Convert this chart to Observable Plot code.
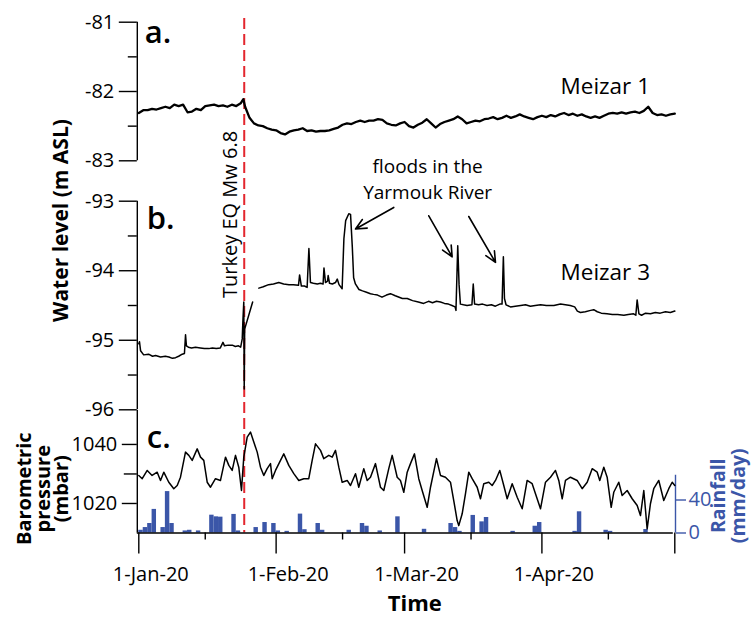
<!DOCTYPE html>
<html>
<head>
<meta charset="utf-8">
<script src="https://cdn.jsdelivr.net/npm/d3@7"></script>
<script src="https://cdn.jsdelivr.net/npm/@observablehq/plot@0.6"></script>
<style>
  body { margin: 0; background: #fff; }
  #chart { position: relative; width: 751px; height: 621px; }
  #chart svg { position: absolute; left: 0; top: 0; }
</style>
</head>
<body>
<div id="chart"></div>
<script>
// ---- time: days since 1 Jan 2020 -------------------------------------------
const monthTicks = [0, 31, 60, 91, 121];      // 1 Jan, 1 Feb, 1 Mar, 1 Apr, 1 May
const monthLabelTicks = [0, 31, 60, 91];
const midMonthTicks = [15, 46, 75, 106];      // 16th of each month
const eqDay = 23.8;                            // Turkey earthquake, 24 Jan 2020

// ---- a. Meizar 1 water level (m ASL) ---------------------------------------
const m1Day = [0,1,2,3,4,5,6,7,8,9,10,11,12,13,14,15,16,17,18,19,20,21,22,23,23.6,
  24,25,26,27,28,29,30,31,32,33,34,35,36,37,38,39,40,41,42,43,44,45,46,47,48,49,50,
  51,52,53,54,55,56,57,58,59,60,61,62,63,64,65,66,67,68,69,70,71,72,73,74,75,76,77,
  78,79,80,81,82,83,84,85,86,87,88,89,90,91,92,93,94,95,96,97,98,99,100,101,102,103,
  104,105,106,107,108,109,110,111,112,113,114,115,116,117,118,119,120,121];
const m1Level = [-82.31,-82.27,-82.27,-82.25,-82.26,-82.24,-82.22,-82.24,-82.19,-82.21,
  -82.19,-82.30,-82.29,-82.25,-82.27,-82.21,-82.20,-82.19,-82.21,-82.20,-82.22,-82.19,
  -82.21,-82.17,-82.11,
  -82.22,-82.38,-82.46,-82.49,-82.50,-82.53,-82.55,-82.56,-82.60,-82.62,-82.58,-82.56,
  -82.55,-82.53,-82.57,-82.56,-82.58,-82.57,-82.57,-82.56,-82.54,-82.52,-82.48,-82.46,
  -82.47,-82.44,-82.42,-82.44,-82.42,-82.42,-82.40,-82.41,-82.46,-82.48,-82.49,-82.46,
  -82.44,-82.50,-82.52,-82.48,-82.45,-82.40,-82.46,-82.52,-82.47,-82.44,-82.42,-82.40,
  -82.36,-82.40,-82.46,-82.44,-82.42,-82.43,-82.40,-82.39,-82.37,-82.40,-82.38,-82.35,
  -82.38,-82.36,-82.33,-82.36,-82.38,-82.40,-82.37,-82.35,-82.37,-82.34,-82.36,-82.33,
  -82.31,-82.34,-82.32,-82.35,-82.33,-82.36,-82.38,-82.36,-82.38,-82.35,-82.32,-82.31,
  -82.32,-82.30,-82.32,-82.30,-82.29,-82.31,-82.28,-82.22,-82.31,-82.34,-82.33,-82.35,
  -82.33,-82.32];

// ---- b. Meizar 3 water level (m ASL); null = logger gap --------------------
const m3Day = [0,0.15,0.4,1.1,2.2,3.1,3.8,4.9,6.0,6.8,
  7.6,8.3,9.0,9.8,10.3,10.55,10.75,11.2,11.9,12.8,
  13.9,14.8,15.8,16.6,17.5,18.4,19.0,19.35,20.2,21.1,
  21.8,22.5,23.0,23.35,23.5,23.7,23.8,23.9,25.7,25.8,
  27.1,28.1,29.3,30.4,31.6,32.7,33.9,34.9,36.05,36.3,
  36.7,37.4,38.0,38.4,38.75,39.4,40.3,41.0,41.6,41.8,
  42.15,42.6,42.75,43.05,43.7,44.4,44.8,45.2,45.9,46.3,
  46.7,47.4,47.8,48.2,48.5,48.9,49.7,50.5,51.4,52.3,
  53.0,53.9,54.9,55.9,56.8,57.9,59.5,60.6,61.8,63.1,
  64.3,65.4,66.3,67.2,68.1,69.0,69.9,70.7,71.4,71.6,
  72.0,72.3,72.6,73.3,74.1,75.2,75.5,75.8,76.7,77.6,
  78.6,79.6,80.5,81.5,82.0,82.3,82.55,82.9,83.9,85.0,
  86.2,87.3,88.4,89.5,90.7,92.0,93.7,95.2,96.3,97.4,
  98.4,99.0,99.7,100.8,102.0,102.7,103.5,104.4,105.7,106.9,
  108.1,109.5,110.5,111.7,112.2,112.5,112.9,113.5,114.4,115.5,
  116.6,117.7,118.9,120.0,121.0];
const m3Level = [-95.05,-95.02,-95.15,-95.21,-95.20,-95.23,-95.22,-95.24,-95.23,-95.24,
  -95.26,-95.25,-95.23,-95.20,-95.19,-94.92,-95.08,-95.10,-95.11,-95.10,
  -95.11,-95.12,-95.12,-95.11,-95.12,-95.11,-95.03,-95.08,-95.07,-95.07,
  -95.09,-95.08,-95.10,-94.98,-94.72,-94.45,-95.70,-94.84,-94.45,null,
  -94.25,-94.23,-94.20,-94.19,-94.17,-94.19,-94.20,-94.20,-94.21,-94.06,
  -94.22,-94.22,-94.24,-93.68,-94.17,-94.18,-94.19,-94.18,-94.19,-93.96,
  -94.17,-94.15,-94.07,-94.18,-94.19,-94.17,-94.12,-94.20,-94.26,-93.54,
  -93.28,-93.18,-93.19,-93.66,-94.10,-94.19,-94.27,-94.29,-94.31,-94.33,
  -94.34,-94.35,-94.38,-94.35,-94.33,-94.36,-94.40,-94.40,-94.43,-94.45,
  -94.47,-94.44,-94.46,-94.44,-94.45,-94.47,-94.48,-94.50,-94.52,-94.57,
  -93.64,-94.20,-94.48,-94.49,-94.50,-94.49,-94.19,-94.48,-94.49,-94.48,
  -94.50,-94.49,-94.51,-94.48,-94.48,-93.80,-94.40,-94.49,-94.52,-94.51,
  -94.50,-94.49,-94.51,-94.50,-94.49,-94.50,-94.50,-94.48,-94.49,-94.50,
  -94.52,-94.58,-94.60,-94.59,-94.57,-94.56,-94.59,-94.61,-94.62,-94.63,
  -94.63,-94.64,-94.63,-94.62,-94.64,-94.42,-94.62,-94.64,-94.61,-94.62,
  -94.60,-94.61,-94.59,-94.60,-94.58];

// ---- c. barometric pressure (mbar) -----------------------------------------
const pDay = [0,0.77,1.9,3.0,4.15,4.9,5.64,6.77,7.9,8.67,
  9.41,10.54,11.29,12.05,13.18,13.93,14.67,15.44,16.19,17.31,
  18.44,19.57,20.32,21.08,21.83,22.57,23.18,23.7,24.47,25.21,
  25.96,26.73,27.47,28.22,28.98,29.73,30.11,30.86,31.99,32.73,
  33.86,34.99,36.12,37.25,38.37,39.14,39.89,41.02,41.76,42.89,
  43.66,44.4,45.15,45.91,47.04,47.79,48.92,49.66,50.79,51.56,
  52.3,53.43,54.56,55.3,56.43,57.2,58.33,59.07,59.82,60.59,
  61.33,62.23,63.2,63.97,65.1,65.85,67.2,68.1,69.23,70.36,
  71.1,71.87,72.23,73.0,73.75,74.49,75.26,76.39,77.13,77.88,
  79.01,79.77,80.52,81.49,82.39,83.16,84.29,85.42,86.55,87.67,
  88.8,89.55,90.68,91.81,92.94,94.06,94.81,95.58,96.32,97.45,
  98.96,100.09,101.22,102.35,103.48,104.06,104.97,105.73,106.64,107.22,
  108.35,109.12,110.25,111.38,112.51,113.25,114.0,114.76,115.5,116.25,
  117.38,118.51,119.64,120.41,121.0];
const pMbar = [1029.5,1028.4,1031.2,1029.5,1030.6,1027.8,1030.6,1027.2,1025.0,1026.1,
  1028.9,1037.4,1036.3,1034.6,1038.5,1035.7,1034.6,1027.2,1025.5,1028.4,
  1027.8,1035.7,1032.9,1031.2,1036.3,1032.3,1024.4,1035.7,1042.5,1044.2,
  1040.8,1037.4,1032.3,1029.5,1031.8,1033.5,1028.4,1031.2,1034.6,1036.8,
  1032.9,1030.1,1027.8,1028.4,1028.4,1034.6,1040.2,1038.0,1035.2,1036.3,
  1035.7,1038.0,1032.3,1027.2,1027.8,1026.1,1030.1,1025.5,1031.8,1027.8,
  1028.9,1033.5,1025.5,1024.4,1031.8,1036.3,1028.9,1027.8,1023.8,1030.6,
  1033.5,1036.8,1028.4,1024.4,1018.7,1025.5,1035.2,1029.5,1028.9,1027.2,
  1021.0,1014.2,1012.5,1016.5,1023.3,1030.6,1028.4,1025.5,1021.6,1026.7,
  1027.2,1026.1,1027.8,1031.2,1026.1,1021.6,1026.7,1022.1,1018.2,1027.8,
  1026.7,1023.3,1018.2,1027.2,1028.9,1031.2,1027.8,1021.6,1027.8,1028.9,
  1027.8,1025.0,1027.2,1031.8,1030.6,1027.8,1032.3,1028.9,1018.7,1023.8,
  1027.2,1022.7,1024.4,1021.6,1019.3,1015.9,1024.4,1011.4,1019.9,1025.0,
  1027.8,1021.0,1025.0,1027.2,1026.1];

// ---- c. daily rainfall (mm/day) --------------------------------------------
const rainDay = [0,1,2,3,5,6,7,10,11,13,16,17,18,21,22,26,28,30,31,33,36,37,40,41,47,
  50,51,54,58,64,70,71,72,75,77,78,84,89,90,98,99,105,106,114];
const rainMm = [3.3,6.6,11.5,28.6,6.6,50.2,11.5,2.5,3.3,2.5,21.6,19.6,19.2,22.5,2.5,
  6.6,12.7,11.5,2.5,2,22.9,4,11.5,3.3,3.3,11.5,8.2,2.5,19.6,4.5,11.5,6.6,2,21.3,13.5,
  18.8,2,8.2,12.7,2,25.7,3.3,2,4.2];

// ---- annotation arrows (panel b), tail -> head ------------------------------
const floodTailDay = [57.56, 65.46, 74.49];
const floodTailLevel = [-93.09, -93.21, -93.22];
const floodHeadDay = [48.92, 70.74, 80.52];
const floodHeadLevel = [-93.40, -93.80, -93.88];

// ---- axis ticks ------------------------------------------------------------
const aTicks = [-81, -82, -83], aMinor = [-81.5, -82.5];
const bTicks = [-93, -94, -95, -96], bMinor = [-93.5, -94.5, -95.5];
const cTicks = [1020, 1040], cMinor = [1030];
const rainTicks = [0, 40];

// ---- drawing ---------------------------------------------------------------
const W = 751, H = 621, X0 = 138.3, X1 = 674.3;
const FONT = "'Open Sans', 'Noto Sans', sans-serif";
const BLUE = "#3b56a8", RED = "#e3262e";
const t0 = Date.UTC(2020, 0, 1);
const at = d => new Date(t0 + d * 864e5);
const fmt = d3.utcFormat("%-d-%b-%y");
const hyphen = d => String(d);

const series = (days, vals) => days.map((d, i) => ({t: at(d), v: vals[i]}));
const m1 = series(m1Day, m1Level);
const m3 = series(m3Day, m3Level);
const pressure = series(pDay, pMbar);
const rain = rainDay.map((d, i) => ({t1: at(d), t2: at(d + 1), mm: rainMm[i]}));
const arrows = floodTailDay.map((d, i) => ({
  x1: at(d), y1: floodTailLevel[i], x2: at(floodHeadDay[i]), y2: floodHeadLevel[i]
}));

function layer({top, bottom, y, color = "black"}, marks) {
  const svg = Plot.plot({
    width: W, height: H,
    marginLeft: X0, marginRight: W - X1, marginTop: top, marginBottom: H - bottom,
    x: {type: "utc", domain: [at(0), at(121)], axis: null, label: null},
    y: y ? {domain: y, axis: null, label: null} : undefined,
    style: {background: "transparent", color, fontFamily: FONT, fontSize: "20px"},
    marks
  });
  document.getElementById("chart").append(svg);
}

const leftAxis = (ticks, minor, size, minorSize) => [
  Plot.ruleX([at(0)], {dx: -1.5, strokeWidth: 1.4}),
  Plot.axisY({anchor: "left", ticks, tickSize: size, tickPadding: 5, dx: -1.5,
    strokeWidth: 1.4, tickFormat: hyphen, fontSize: 20}),
  Plot.axisY({anchor: "left", ticks: minor, tickSize: minorSize, dx: -1.5,
    strokeWidth: 1.4, tickFormat: () => ""})
];

// earthquake marker across all panels
layer({top: 18, bottom: 532.5}, [
  Plot.ruleX([at(eqDay)], {stroke: RED, strokeWidth: 2, strokeDasharray: "11,5"})
]);

// rainfall bars with their own (right-hand) scale
layer({top: 410, bottom: 532.5, y: [0, 148.5], color: BLUE}, [
  Plot.rectY(rain, {x1: "t1", x2: "t2", y: "mm", fill: BLUE, inset: 0}),
  Plot.ruleX([at(121)], {y1: 0, y2: 70, stroke: BLUE, strokeWidth: 1.4, dx: 0.7}),
  Plot.axisY({anchor: "right", ticks: rainTicks, tickSize: 10, tickPadding: 3, dx: 0.7,
    strokeWidth: 1.4, tickFormat: hyphen, fontSize: 20}),
  Plot.text(["Rainfall\n(mm/day)"], {frameAnchor: "right", textAnchor: "middle",
    dx: 54, dy: 24, rotate: -90, fill: BLUE, fontWeight: "bold", fontSize: 19.5,
    lineHeight: 1.0})
]);

// a. Meizar 1
layer({top: 21.7, bottom: 160.3, y: [-83, -81]}, [
  ...leftAxis(aTicks, aMinor, 18, 9),
  Plot.line(m1, {x: "t", y: "v", strokeWidth: 2.3}),
  Plot.text(["a."], {frameAnchor: "top-left", textAnchor: "start", lineAnchor: "bottom",
    dx: 6, dy: 20.5, fontSize: 31, fontWeight: 600}),
  Plot.text(["Meizar 1"], {x: () => at(95.2), y: () => -82.04, textAnchor: "start",
    lineAnchor: "bottom", fontSize: 22.5})
]);

// b. Meizar 3
layer({top: 200.7, bottom: 409.3, y: [-96, -93]}, [
  ...leftAxis(bTicks, bMinor, 18, 9),
  Plot.line(m3, {x: "t", y: "v", strokeWidth: 1.5}),
  Plot.arrow(arrows, {x1: "x1", y1: "y1", x2: "x2", y2: "y2", strokeWidth: 1.6,
    headLength: 11, headAngle: 50}),
  Plot.text(["floods in the"], {x: () => at(65.2), y: () => -92.50, fontSize: 19}),
  Plot.text(["Yarmouk River"], {x: () => at(65.2), y: () => -92.875, fontSize: 19}),
  Plot.text(["Meizar 3"], {x: () => at(95.2), y: () => -94.14, textAnchor: "start",
    lineAnchor: "bottom", fontSize: 22.5}),
  Plot.text(["Turkey EQ Mw 6.8"], {x: () => at(eqDay), y: () => -93.19, dx: -14,
    rotate: -90, fontSize: 20}),
  Plot.text(["b."], {frameAnchor: "top-left", textAnchor: "start", lineAnchor: "bottom",
    dx: 8, dy: 27.5, fontSize: 31, fontWeight: 600}),
  Plot.text(["Water level (m ASL)"], {frameAnchor: "left", textAnchor: "middle",
    dx: -78, dy: -85, rotate: -90, fontSize: 21, fontWeight: "bold"})
]);

// c. barometric pressure + shared time axis
layer({top: 410, bottom: 532.5, y: [1010, 1051.5]}, [
  ...leftAxis(cTicks, cMinor, 15, 13),
  Plot.ruleY([1010], {strokeWidth: 1.4, dx: -1.5}),
  Plot.axisX({anchor: "bottom", ticks: monthTicks.map(at), tickSize: 21, strokeWidth: 1.4,
    tickFormat: () => ""}),
  Plot.axisX({anchor: "bottom", ticks: midMonthTicks.map(at), tickSize: 7, strokeWidth: 1.4,
    tickFormat: () => ""}),
  Plot.axisX({anchor: "bottom", ticks: monthLabelTicks.map(at), tickSize: 0, tickPadding: 34,
    dx: 12, tickFormat: fmt, fontSize: 20}),
  Plot.line(pressure, {x: "t", y: "v", strokeWidth: 1.5}),
  Plot.text(["c."], {frameAnchor: "top-left", textAnchor: "start", lineAnchor: "bottom",
    dx: 8, dy: 37, fontSize: 31, fontWeight: 600}),
  Plot.text(["Barometric\npressure\n(mbar)"], {frameAnchor: "left", textAnchor: "middle",
    dx: -95, dy: 17, rotate: -90, fontSize: 20, fontWeight: "bold", lineHeight: 0.92}),
  Plot.text(["Time"], {frameAnchor: "bottom", dx: 8, dy: 78, fontSize: 22, fontWeight: "bold"})
]);
</script>
</body>
</html>
